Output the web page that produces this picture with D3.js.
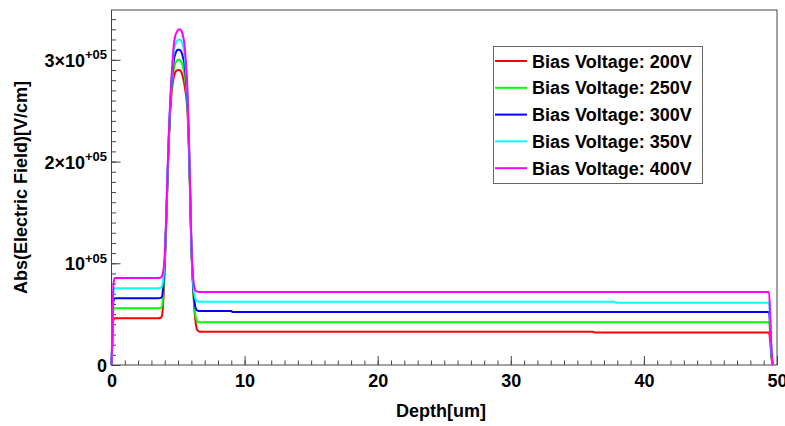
<!DOCTYPE html>
<html>
<meta charset="utf-8">
<title>Electric field vs depth</title>
<script src="https://d3js.org/d3.v7.min.js"></script>
<style>
  body { margin: 0; background: #fff; }
  text { font-family: "Liberation Sans", Arial, sans-serif; font-weight: bold; fill: #000; }
</style>
<body>
<script>
  // depth in um, field in units of 1e3 V/cm
  var depth = [0, 0.05, 0.1, 0.15, 0.25, 3.5, 3.7, 3.8, 3.9,
    4.0, 4.1, 4.2, 4.3, 4.4, 4.5, 4.6, 4.7, 4.8, 4.9,
    5.0, 5.1, 5.2, 5.3, 5.4, 5.5, 5.6, 5.7, 5.8, 5.9,
    6.0, 6.1, 6.2, 6.3, 6.4, 6.5, 6.6,
    9.0, 9.1, 36.2, 36.3, 37.8, 37.9, 49.4, 49.5, 49.6, 49.7];

  var field200 = [0, 16, 40, 44, 45.9, 45.9, 46.4, 49, 65,
    95, 133, 177, 217, 246, 265, 277, 284, 288, 289.5,
    290, 290, 289, 286, 281, 274, 265, 252, 218, 170,
    114, 84, 60, 44, 36, 33.5, 32.8,
    32.8, 32.8, 32.8, 31.9, 31.9, 31.9, 31.9, 21, 5, 0];
  var field250 = [0, 18, 45, 54, 55.8, 55.8, 56.2, 58, 73,
    98, 135, 179, 219, 249, 270, 284, 292, 297, 299,
    300, 300, 299, 296, 291, 284, 273, 258, 222, 172,
    116, 85, 62, 49, 44, 42.3, 42.0,
    42, 42, 42, 42, 42, 42, 42, 27, 7, 0];
  var field300 = [0, 20, 50, 63, 65.6, 65.6, 66, 67.5, 80,
    101, 138, 181, 221, 252, 275, 291, 301, 306, 309,
    310, 310, 309, 306, 301, 294, 281, 263, 226, 175,
    118, 86, 67, 57, 54, 53.3, 53.1,
    53.1, 52.1, 52.1, 52.1, 52.1, 52.1, 52.1, 33, 9, 0];
  var field350 = [0, 22, 55, 72, 75.5, 75.5, 76, 77.5, 86,
    104, 140, 183, 223, 254, 278, 297, 310, 315, 318,
    319.5, 320, 319.5, 317, 312, 304, 288, 268, 229, 178,
    120, 88, 72, 65, 63, 62.4, 62.2,
    62.2, 62.2, 62.2, 62.2, 62.2, 61.3, 61.3, 39, 10, 0];
  var field400 = [0, 25, 60, 80, 85.5, 85.5, 86, 87.5, 93,
    107, 142, 185, 225, 256, 281, 302, 317, 324, 327,
    329.5, 330, 329.5, 327, 322, 313, 296, 273, 232, 180,
    122, 92, 78, 73.5, 72.3, 72, 71.8,
    71.8, 71.8, 71.8, 71.8, 71.8, 71.8, 71.8, 45, 12, 0];

  var seriesNames = ["Bias Voltage: 200V", "Bias Voltage: 250V", "Bias Voltage: 300V",
    "Bias Voltage: 350V", "Bias Voltage: 400V"];
  var seriesValues = [field200, field250, field300, field350, field400];
  var seriesColors = ["#ff0000", "#00ff00", "#0000ff", "#00ffff", "#ff00ff"];

  var xTicks = [0, 10, 20, 30, 40, 50];
  var yTicks = [0, 100, 200, 300];
  var yTickMantissa = ["0", "10", "2\u00d710", "3\u00d710"];
  var yTickExponent = ["", "+05", "+05", "+05"];

  var width = 785, height = 426;
  var plotLeft = 111.5, plotRight = 777, plotTop = 10, plotBottom = 365;

  var svg = d3.select("body").append("svg").attr("width", width).attr("height", height);

  var xScale = d3.scaleLinear().domain([0, 50]).range([plotLeft, plotRight]);
  var yScale = d3.scaleLinear().domain([0, 349]).range([plotBottom, plotTop]);

  // frame
  svg.append("rect")
    .attr("x", plotLeft).attr("y", plotTop)
    .attr("width", plotRight - plotLeft).attr("height", plotBottom - plotTop)
    .attr("fill", "none").attr("stroke", "#444").attr("stroke-width", 1);

  // minor ticks
  svg.append("g")
    .attr("transform", "translate(0," + plotBottom + ")")
    .call(d3.axisBottom(xScale).tickValues(d3.range(0, 51, 1)).tickSize(-4.5).tickFormat(""))
    .call(function(g) { g.select(".domain").remove(); g.selectAll("line").attr("stroke", "#444"); });
  svg.append("g")
    .attr("transform", "translate(" + plotLeft + ",0)")
    .call(d3.axisLeft(yScale).tickValues(d3.range(0, 341, 10)).tickSize(-4.5).tickFormat(""))
    .call(function(g) { g.select(".domain").remove(); g.selectAll("line").attr("stroke", "#444"); });

  // major ticks
  var axisX = d3.axisBottom(xScale).tickValues(xTicks).tickSize(-9).tickPadding(9.5);
  svg.append("g")
    .attr("transform", "translate(0," + plotBottom + ")")
    .call(axisX)
    .call(function(g) {
      g.select(".domain").remove();
      g.selectAll("line").attr("stroke", "#444");
      g.selectAll("text").attr("font-size", 18).attr("font-family", null).attr("fill", "#000");
    });
  svg.append("g")
    .attr("transform", "translate(" + plotLeft + ",0)")
    .call(d3.axisLeft(yScale).tickValues(yTicks).tickSize(-9).tickFormat(""))
    .call(function(g) { g.select(".domain").remove(); g.selectAll("line").attr("stroke", "#444"); });

  // y tick labels with exponents
  var yLab = svg.selectAll(".ylab")
    .data(yTicks)
    .enter()
    .append("text")
    .attr("class", "ylab")
    .attr("x", 107)
    .attr("y", function(d) { return yScale(d) + 7; })
    .attr("text-anchor", "end");
  yLab.append("tspan")
    .attr("font-size", 18)
    .text(function(d, i) { return yTickMantissa[i]; });
  yLab.append("tspan")
    .attr("font-size", 13)
    .attr("dy", -7.5)
    .text(function(d, i) { return yTickExponent[i]; });

  // axis titles
  svg.append("text")
    .attr("x", 441).attr("y", 417)
    .attr("text-anchor", "middle").attr("font-size", 18)
    .text("Depth[um]");
  svg.append("text")
    .attr("transform", "translate(27," + ((plotTop + plotBottom) / 2) + ") rotate(-90)")
    .attr("text-anchor", "middle").attr("font-size", 18)
    .text("Abs(Electric Field)[V/cm]");

  // curves
  var line = d3.line()
    .x(function(d) { return xScale(d[0]); })
    .y(function(d) { return yScale(d[1]); })
    .curve(d3.curveMonotoneX);

  svg.selectAll(".curve")
    .data(seriesValues)
    .enter()
    .append("path")
    .attr("class", "curve")
    .attr("d", function(vals) { return line(depth.map(function(x, i) { return [x, vals[i]]; })); })
    .attr("fill", "none")
    .attr("stroke", function(d, i) { return seriesColors[i]; })
    .attr("stroke-width", 2);

  // legend
  var legend = svg.append("g");
  legend.append("rect")
    .attr("x", 493.5).attr("y", 46.5)
    .attr("width", 209).attr("height", 137)
    .attr("fill", "#fff").attr("stroke", "#666").attr("stroke-width", 1);
  var items = legend.selectAll(".item")
    .data(seriesNames)
    .enter()
    .append("g")
    .attr("transform", function(d, i) { return "translate(0," + (61 + i * 26.8) + ")"; });
  items.append("line")
    .attr("x1", 495).attr("x2", 527).attr("y1", 0).attr("y2", 0)
    .attr("stroke", function(d, i) { return seriesColors[i]; })
    .attr("stroke-width", 2);
  items.append("text")
    .attr("x", 532).attr("y", 6.5)
    .attr("font-size", 18)
    .text(function(d) { return d; });
</script>
</body>
</html>
